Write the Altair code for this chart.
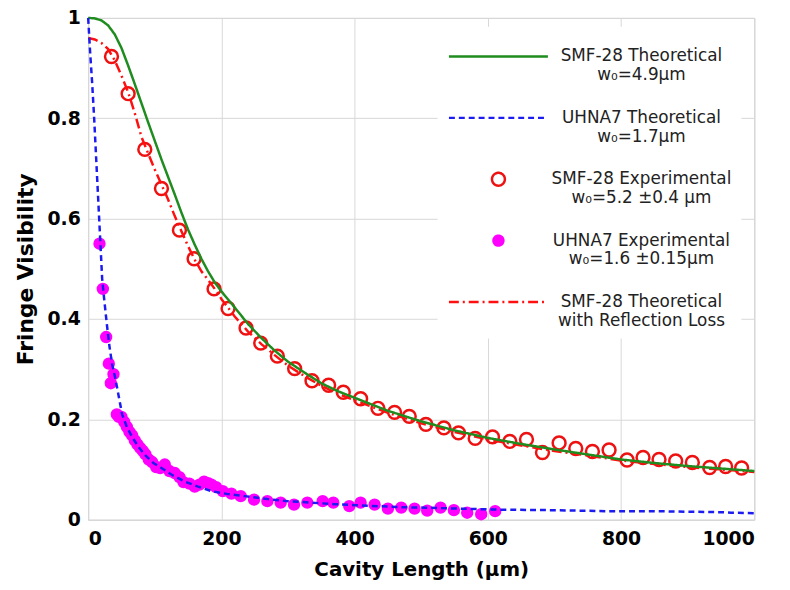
import altair as alt
import pandas as pd

# ---------------- data ----------------
SERIES = [
    "SMF-28 Theoretical|w₀=4.9μm",
    "UHNA7 Theoretical|w₀=1.7μm",
    "SMF-28 Experimental|w₀=5.2 ±0.4 μm",
    "UHNA7 Experimental|w₀=1.6 ±0.15μm",
    "SMF-28 Theoretical|with Reflection Loss",
]

smf_th_x = [0, 10, 20, 30, 40, 50, 60, 70, 80, 90, 100, 110, 120, 130, 140, 150, 160, 170,
            180, 190, 200, 220, 240, 260, 280, 300, 325, 350, 375, 400, 450, 500, 550, 600,
            650, 700, 750, 800, 850, 900, 950, 1000]
smf_th_y = [1.0, 0.999, 0.995, 0.985, 0.967, 0.94, 0.905, 0.868, 0.83, 0.792, 0.755, 0.718,
            0.683, 0.648, 0.612, 0.578, 0.548, 0.52, 0.495, 0.473, 0.455, 0.423, 0.39, 0.362,
            0.337, 0.315, 0.293, 0.272, 0.256, 0.243, 0.217, 0.196, 0.178, 0.163, 0.151, 0.140,
            0.130, 0.120, 0.113, 0.107, 0.102, 0.097]

smf_rl_x = smf_th_x
smf_rl_y = [0.96, 0.957, 0.95, 0.938, 0.915, 0.885, 0.852, 0.81, 0.763, 0.73, 0.698, 0.668,
            0.638, 0.605, 0.575, 0.545, 0.518, 0.495, 0.478, 0.46, 0.44, 0.405, 0.375, 0.35,
            0.328, 0.307, 0.286, 0.267, 0.251, 0.238, 0.213, 0.192, 0.175, 0.16, 0.148, 0.137,
            0.128, 0.118, 0.111, 0.105, 0.1, 0.095]

uhna_th_x = [0, 3, 6, 9, 12, 15, 18, 21, 24, 28, 32, 36, 41, 46, 51, 58, 66, 75, 86, 98, 110,
             125, 145, 165, 185, 210, 235, 270, 300, 335, 370, 400, 435, 470, 505, 560, 620,
             700, 780, 850, 900, 950, 965, 1000]
uhna_th_y = [1.0, 0.93, 0.87, 0.80, 0.72, 0.64, 0.56, 0.48, 0.44, 0.39, 0.345, 0.31, 0.28,
             0.245, 0.21, 0.185, 0.165, 0.146, 0.128, 0.113, 0.103, 0.09, 0.076, 0.066, 0.057,
             0.051, 0.047, 0.041, 0.037, 0.034, 0.031, 0.029, 0.027, 0.025, 0.024, 0.022, 0.020,
             0.019, 0.017, 0.017, 0.016, 0.015, 0.014, 0.013]

smf_exp_x = [35, 60, 85, 110, 137, 159, 189, 210, 237, 259, 284, 310, 336, 361, 383, 409, 435,
             460, 482, 507, 534, 556, 581, 607, 633, 658, 682, 707, 732, 757, 782, 809, 833,
             857, 882, 907, 933, 957, 981]
smf_exp_y = [0.923, 0.849, 0.738, 0.660, 0.577, 0.520, 0.460, 0.421, 0.382, 0.352, 0.326,
             0.301, 0.277, 0.268, 0.254, 0.241, 0.222, 0.214, 0.206, 0.190, 0.183, 0.173, 0.162,
             0.165, 0.156, 0.160, 0.134, 0.153, 0.142, 0.136, 0.139, 0.119, 0.124, 0.120, 0.117,
             0.114, 0.104, 0.106, 0.103]

uhna_exp_x = [17, 22, 27, 31, 34, 38, 43, 46, 50, 54, 58, 62, 66, 70, 74, 78, 82, 86, 91, 96,
              102, 108, 115, 122, 130, 137, 143, 152, 160, 167, 174, 180, 185, 192, 202, 215,
              229, 249, 269, 289, 309, 329, 352, 368, 392, 409, 430, 450, 470, 490, 509, 529,
              549, 569, 590, 611]
uhna_exp_y = [0.55, 0.46, 0.364, 0.311, 0.272, 0.29, 0.21, 0.205, 0.205, 0.195, 0.185, 0.175,
              0.168, 0.158, 0.15, 0.143, 0.137, 0.13, 0.12, 0.115, 0.105, 0.103, 0.11, 0.097,
              0.093, 0.085, 0.075, 0.072, 0.066, 0.07, 0.076, 0.073, 0.070, 0.065, 0.057, 0.052,
              0.047, 0.040, 0.037, 0.034, 0.030, 0.034, 0.037, 0.034, 0.027, 0.034, 0.030, 0.022,
              0.024, 0.022, 0.018, 0.024, 0.019, 0.014, 0.011, 0.017]

x_ticks = [0, 200, 400, 600, 800, 1000]
y_ticks = [0, 0.2, 0.4, 0.6, 0.8, 1]

# ---------------- styling ----------------
GREEN = "#1e8c1e"
BLUE = "#1c1cf0"
RED_C = "#ee1111"
MAGENTA = "#ff00ff"
RED_D = "#ff1010"


def circ(r):
    return f"M{-r},0A{r},{r} 0 1,0 {r},0A{r},{r} 0 1,0 {-r},0Z"


LINE_PATH = "M-1,0L1,0"

lines_df = pd.concat([
    pd.DataFrame({"x": smf_rl_x, "y": smf_rl_y, "series": SERIES[4], "k": 0}),
    pd.DataFrame({"x": smf_th_x, "y": smf_th_y, "series": SERIES[0], "k": 1}),
    pd.DataFrame({"x": uhna_th_x, "y": uhna_th_y, "series": SERIES[1], "k": 2}),
])
points_df = pd.concat([
    pd.DataFrame({"x": smf_exp_x, "y": smf_exp_y, "series": SERIES[2]}),
    pd.DataFrame({"x": uhna_exp_x, "y": uhna_exp_y, "series": SERIES[3]}),
])

legend = alt.Legend(
    orient="none", legendX=353, legendY=9, padding=10, fillColor="white",
    symbolSize=10000, symbolStrokeWidth=2.5, clipHeight=40, rowPadding=15,
    labelAlign="center", labelOffset=93, labelLimit=400, labelFont="DejaVu Sans",
    labelFontSize=17, labelColor="#222222", labelExpr="split(datum.label, '|')",
)

stroke_enc = alt.Stroke("series:N", title=None, legend=legend,
                        scale=alt.Scale(domain=SERIES, range=[GREEN, BLUE, RED_C, MAGENTA, RED_D]))
dash_enc = alt.StrokeDash("series:N", title=None, legend=legend,
                          scale=alt.Scale(domain=SERIES,
                                          range=[[1, 0], [6, 4], [1, 0], [1, 0], [10, 4, 2, 4]]))
shape_enc = alt.Shape("series:N", title=None, legend=legend,
                      scale=alt.Scale(domain=SERIES,
                                      range=[LINE_PATH, LINE_PATH, circ(0.13), circ(0.1), LINE_PATH]))
fill_enc = alt.Fill("series:N", title=None, legend=legend,
                    scale=alt.Scale(domain=SERIES,
                                    range=["transparent", "transparent", "transparent", MAGENTA, "transparent"]))

x_enc = alt.X("x:Q", scale=alt.Scale(domain=[0, 1000], nice=False),
              axis=alt.Axis(values=x_ticks, title="Cavity Length (μm)", format="d"))
y_enc = alt.Y("y:Q", scale=alt.Scale(domain=[0, 1], nice=False),
              axis=alt.Axis(values=y_ticks, title="Fringe Visibility", format="~g"))

points = alt.Chart(points_df).mark_point(opacity=1, strokeWidth=2.5, size=10000).encode(
    x=x_enc, y=y_enc, stroke=stroke_enc, shape=shape_enc, fill=fill_enc,
)

lines = alt.Chart(lines_df).mark_line(strokeWidth=2.5).encode(
    x=x_enc, y=y_enc, stroke=stroke_enc, strokeDash=dash_enc,
    detail="k:N", order=alt.Order("x:Q"),
)

chart = alt.layer(points, lines).properties(
    width=673, height=507,
    autosize=alt.AutoSizeParams(type="none"),
    padding={"left": 81, "top": 7, "right": 28, "bottom": 68},
).configure_view(
    stroke="#c8c8c8", strokeWidth=1,
).configure_axis(
    grid=True, gridColor="#d8d8d8", gridWidth=1, ticks=False, domain=False,
    labelFont="DejaVu Sans", labelFontWeight="bold", labelFontSize=19, labelColor="black",
    titleFont="DejaVu Sans", titleFontWeight="bold", titleColor="black",
).configure_axisX(
    labelPadding=10, titleFontSize=20, titlePadding=11,
).configure_axisY(
    labelPadding=8, titleFontSize=22, titlePadding=10,
)

chart.save("out.html", embed_options={"renderer": "svg", "actions": False})
